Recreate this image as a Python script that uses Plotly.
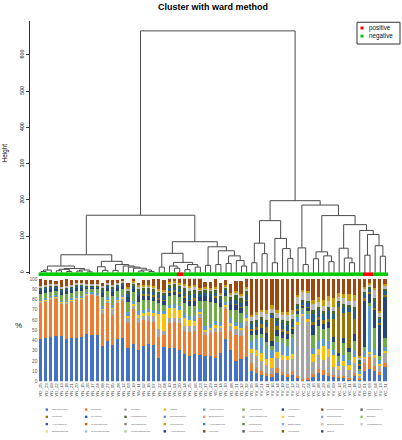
import plotly.graph_objects as go

W, H = 402, 440

title = "Cluster with ward method"

sample_labels = ["YD_25","YD_23","YN_09","YD_22","YN_13","YN_18","YN_21","YN_20","YN_15","YN_26",
                 "YN_17","YN_24","YN_08","YN_27","YN_05","YN_28","YN_12","YN_03","YN_19","YN_11",
                 "YN_02","YN_16","YN_07","YN_22","YN_04","YN_10","YN_01","YD_20","YN_14","YN_25",
                 "YN_06","YN_23","YD_17","YN_29","YD_11","YD_14","YN_30","YD_08","YN_31","YD_12",
                 "YN_32","YD_05","YV_18","YV_21","YV_11","YV_16","YV_14","YV_19","YV_07","YV_12",
                 "YC_22","YC_27","YC_24","YC_16","YC_08","YC_29","YV_05","YV_09","YC_13","YC_20",
                 "YC_11","YC_18","YV_02","YD_01","YD_03","YC_04","YV_13","YC_31"]
positive_leaves = [27, 63, 64]

# ward tree: (merge height, left, right); leaves are leaf-order indices
tree = (666,
        (158,
         (49,
          (18, (7, (3, 0, 1), 2),
               (11, (9, (5, 3, 4), (3, 5, 6)), (7, (4, 7, 8), (2, 9, 10)))),
          (31, (16, 11, (6, 12, 13)),
               (22, (6, 14, 15), (18, 16, (15, 17, (12, 18, (7, (4, 19, 20), (3, 21, 22)))))))),
         (85,
          (53, (15, 23, 24),
               (28, (18, 25, (12, 26, 27)), (22, (8, 28, 29), (15, 30, 31)))),
          (71, (20, 32, 33),
               (60, (22, 34, 35), (46, (25, 36, 37), (33, 38, (18, 39, 40))))))),
        (198,
         (143, (81, (27, 41, 42), (52, 43, 44)),
               (94, (27, 45, 46), (66, 47, (39, 48, 49)))),
         (186, (68, 50, (22, 51, 52)),
               (157, (57, (38, 53, 54), (46, 55, (30, 56, 57))),
                     (132, (67, 58, (40, 59, (27, 60, 61))),
                           (116, 62, (105, (48, 63, 64), (74, 65, (45, 66, 67)))))))))

genera = ["Streptococcus","Neisseria","Gemella","Rothia","Granulicatella","Actinomyces","Veillonella",
          "Porphyromonas","Parascardovia","Lautropia","Prevotella","Fusobacterium","Rhodanobacter",
          "Enterococcus","Corynebacterium","Delftia","Roseomonas","Dialister","Anoxybacillus",
          "Propionigenium","Ochrobactrum","Micrococcus","Anaerobacillus","Paracoccus","Bacteroides",
          "Staphylococcus","Megasphaera","Sphingomonas","Syntrophomonas","Propionibacterium",
          "Anaerococcus","Moorella","Lactobacillus","Finegoldia","Others"]
genus_colors = ["#4472C4","#ED7D31","#A5A5A5","#FFC000","#5B9BD5","#70AD47","#264478","#9E480E",
                "#636363","#997300","#255E91","#43682B","#698ED0","#F1975A","#B7B7B7","#FFCD33",
                "#7CAFDD","#8CC168","#335AA1","#D26012","#848484","#CC9A00","#3A7FC1","#5A8A39",
                "#8FAADC","#F4B183","#C9C9C9","#FFD966","#9DC3E6","#A9D18E","#203864","#843C0C",
                "#525252","#7F6000","#1F4E79"]

# relative abundance (%) per sample, in leaf order
streptococcus = [41,42,43,44,44,41,42,42,43,46,45,45, 35,40,36,41,42,33,37,31,35,37,36,
                 23,34,33,33,31,27,25,27, 26,25,25,23,28,41,31,20,22,24,
                 10,8,6,5,4,8,6,4,6, 3,1,2,4,8,6,5,4,3,3,2,5,2,10,12,10,6,14]
neisseria = [36,36,37,37,32,35,36,38,37,38,40,39, 31,37,29,36,37,24,34,26,25,22,22,
             20,11,24,25,26,22,23,22, 36,20,22,25,20,30,18,25,22,30,
             8,5,4,3,3,5,3,3,4, 2,1,1,3,4,5,3,2,2,2,1,3,1,8,12,5,3,4]
gemella = [1,1,1,1,1,1,1,1,1,1,1,1, 4,2,6,2,2,5,3,5,4,5,6,
           8,4,5,4,5,5,6,5, 4,3,3,4,4,2,5,6,6,5,
           10,12,10,8,6,10,12,14,12, 50,62,55,12,14,10,16,8,6,10,8,10,3,4,3,8,6,10]
rothia = [1,1,1,1,1,1,1,1,1,1,0,0, 1,1,1,1,1,2,2,3,3,4,3,
          15,17,10,10,8,8,6,5, 2,2,2,3,2,2,3,3,2,3,
          4,6,8,6,10,6,5,4,5, 3,2,3,8,6,14,8,12,4,5,5,6,1,2,2,3,2,2]
granulicatella = [1,1,1,1,1,1,1,1,1,1,1,1, 3,2,3,2,2,4,3,4,3,3,3,
                  3,3,3,4,4,5,4,5, 3,4,4,4,4,3,5,4,5,4,
                  8,10,14,12,8,10,12,10,14, 5,4,5,6,8,6,8,5,4,6,5,6,3,6,45,6,4,4]
actinomyces = [5,5,4,4,5,6,5,5,5,3,3,4, 8,6,8,6,6,10,8,9,10,9,9,
               8,6,8,8,8,10,10,10, 8,25,22,18,15,5,8,12,10,8,
               5,4,4,5,4,5,4,6,5, 3,2,3,12,14,10,12,8,6,12,8,10,2,4,3,20,4,8]
veillonella = [3,3,3,2,3,3,3,3,3,2,2,2, 4,3,4,3,3,4,3,5,4,4,4,
               3,4,4,4,4,5,5,5, 3,4,4,5,4,3,5,5,5,5,
               4,5,6,8,5,6,6,5,5, 3,2,3,10,6,5,6,4,3,4,4,6,3,45,8,18,30,40]
lautropia = [0,0,0,0,0,0,0,0,0,0,0,0, 0,0,0,0,0,0,0,0,1,1,1,
             1,1,1,1,1,1,1,2, 0,0,0,1,0,0,0,1,1,1,
             2,3,4,6,22,4,3,3,2, 2,1,1,3,3,4,3,18,45,25,35,15,2,2,2,2,2,2]
prevotella = [2,2,2,2,2,2,2,2,2,1,1,1, 3,2,3,2,2,3,3,4,3,3,3,
              3,3,3,3,3,4,4,4, 3,3,3,3,3,3,4,4,4,4,
              5,4,4,4,3,5,6,6,5, 3,3,4,8,6,6,8,5,4,6,4,8,3,4,3,6,4,4]
fusobacterium = [2,2,2,2,2,2,2,2,2,1,1,1, 2,2,2,2,2,3,2,3,3,3,3,
                 3,3,3,3,3,4,4,4, 3,3,3,3,3,3,3,4,4,4,
                 3,3,3,3,2,3,3,4,3, 2,2,2,4,4,3,4,3,2,3,3,4,1,2,2,3,2,2]
corynebacterium = [1,1,1,1,1,1,1,1,1,1,1,1, 2,1,2,1,1,3,2,3,2,2,2,
                   2,2,2,2,2,3,3,3, 2,2,2,2,2,1,3,3,3,3,
                   4,5,5,6,4,5,5,6,5, 6,8,7,6,5,5,6,4,3,5,4,6,2,3,3,8,4,4]
micrococcus = [0,0,0,0,0,0,0,0,0,0,0,0, 0,0,0,0,0,1,1,1,1,1,1,
               1,1,1,1,1,1,2,2, 1,1,1,1,1,1,1,1,1,1,
               2,3,2,4,4,3,3,3,4, 2,1,2,4,4,6,4,8,4,4,6,5,2,2,1,2,2,1]
porphyromonas = [7,5,4,3,7,7,5,3,3,4,4,4, 3,3,5,3,2,4,3,2,5,5,7,
                 10,10,4,6,8,10,12,12, 10,5,6,8,10,5,9,10,13,12,
                 35,32,30,30,25,30,32,32,30, 16,11,12,20,18,20,17,19,14,15,15,16,75,8,4,9,31,5]

bar_series = [("Streptococcus", streptococcus), ("Neisseria", neisseria), ("Gemella", gemella),
              ("Rothia", rothia), ("Granulicatella", granulicatella), ("Actinomyces", actinomyces),
              ("Veillonella", veillonella), ("Lautropia", lautropia), ("Prevotella", prevotella),
              ("Fusobacterium", fusobacterium), ("Corynebacterium", corynebacterium),
              ("Micrococcus", micrococcus), ("Porphyromonas", porphyromonas)]

n = len(sample_labels)
color_of = dict(zip(genera, genus_colors))

# ---------- dendrogram segments ----------
xs, ys = [], []

def walk(node):
    if isinstance(node, int):
        return float(node), 0.0
    h, l, r = node
    xl, hl = walk(l)
    xr, hr = walk(r)
    xs.extend([xl, xl, xr, xr, None])
    ys.extend([hl, h, h, hr, None])
    return (xl + xr) / 2.0, h

walk(tree)

def py(p):  # pixel from top -> paper fraction
    return 1 - p / H

def px(p):
    return p / W

XR = [-0.5, n - 0.5]
XD = [px(38.4), px(388.0)]

fig = go.Figure()
fig.add_trace(go.Scatter(x=xs, y=ys, mode="lines", line=dict(color="#4a4a4a", width=1),
                         xaxis="x", yaxis="y", hoverinfo="skip", showlegend=False))

grp = [1 if i in positive_leaves else 0 for i in range(n)]
fig.add_trace(go.Heatmap(x=list(range(n)), y=[0], z=[grp], zmin=0, zmax=1,
                         colorscale=[[0, "#00CD00"], [1, "#FF0000"]], showscale=False,
                         xaxis="x2", yaxis="y2", hoverinfo="skip"))

for name, vals in bar_series:
    fig.add_trace(go.Bar(x=list(range(n)), y=vals, name=name, marker_color=color_of[name],
                         marker_line_width=0, width=0.62, xaxis="x3", yaxis="y3",
                         showlegend=False))

ann = []
shapes = []

# legend for groups (top right)
shapes.append(dict(type="rect", xref="paper", yref="paper", x0=px(357), x1=px(400),
                   y0=py(42.5), y1=py(20.5), line=dict(color="#333", width=1)))
for k, (lab, col) in enumerate([("positive", "#FF0000"), ("negative", "#00CD00")]):
    yy = 26.3 + 8.2 * k
    shapes.append(dict(type="rect", xref="paper", yref="paper", x0=px(360.5), x1=px(363.5),
                       y0=py(yy + 1.5), y1=py(yy - 1.5), fillcolor=col, line_width=0))
    ann.append(dict(text=lab, x=px(367), y=py(yy), xref="paper", yref="paper",
                    xanchor="left", yanchor="middle", showarrow=False,
                    font=dict(size=6.3, color="#111", family="Liberation Sans")))

# genus legend (bottom)
for k, g in enumerate(genera):
    r, c = divmod(k, 9)
    cx = 46.8 + 39.35 * c
    cy = 412.3 + 7.33 * r
    shapes.append(dict(type="rect", xref="paper", yref="paper", x0=px(cx - 1.2), x1=px(cx + 1.2),
                       y0=py(cy + 1.2), y1=py(cy - 1.2), fillcolor=genus_colors[k], line_width=0))
    ann.append(dict(text=g, x=px(cx + 3), y=py(cy), xref="paper", yref="paper",
                    xanchor="left", yanchor="middle", showarrow=False,
                    font=dict(size=2.4, color="#595959", family="Liberation Sans")))

ann.append(dict(text="<b>" + title + "</b>", x=px(213), y=py(5), xref="paper", yref="paper",
                xanchor="center", yanchor="middle", showarrow=False,
                font=dict(size=9, color="#000", family="Liberation Sans")))
ann.append(dict(text="Height", x=px(5), y=py(153), xref="paper", yref="paper", textangle=-90,
                xanchor="center", yanchor="middle", showarrow=False,
                font=dict(size=6.3, color="#000", family="Liberation Sans")))
ann.append(dict(text="%", x=px(18.5), y=py(327), xref="paper", yref="paper",
                xanchor="center", yanchor="middle", showarrow=False,
                font=dict(size=8, color="#222", family="Liberation Sans")))

fig.update_layout(
    width=W, height=H, margin=dict(l=0, r=0, t=0, b=0),
    paper_bgcolor="white", plot_bgcolor="rgba(0,0,0,0)",
    barmode="stack", bargap=0, showlegend=False,
    xaxis=dict(domain=XD, range=XR, visible=False),
    yaxis=dict(domain=[py(275.5), py(19.3)], range=[-5, 693], anchor="free", position=px(29.3),
               showline=True, linecolor="#333", linewidth=1, ticks="outside", ticklen=3,
               tickcolor="#333", tickvals=[0, 100, 200, 300, 400, 500, 600], tickangle=-90,
               tickfont=dict(size=5.2, color="#000", family="Liberation Sans"),
               showgrid=False, zeroline=False),
    xaxis2=dict(domain=XD, range=XR, visible=False, anchor="y2"),
    yaxis2=dict(domain=[py(277.3), py(273.3)], range=[-0.5, 0.5], visible=False, anchor="x2"),
    xaxis3=dict(domain=XD, range=XR, anchor="y3", tickmode="array", tickvals=list(range(n)),
                ticktext=sample_labels, tickangle=-90, ticks="", showline=False, showgrid=False,
                zeroline=False, tickfont=dict(size=4.4, color="#404040", family="Liberation Sans")),
    yaxis3=dict(domain=[py(383.7), py(280)], range=[0, 100], anchor="x3", tickvals=list(range(0, 101, 10)),
                showgrid=False, zeroline=False, showline=False, ticks="",
                tickfont=dict(size=4.8, color="#595959", family="Liberation Sans")),
    annotations=ann, shapes=shapes,
)

fig.write_html("out.html", config={"displayModeBar": False},
               post_script="document.body.style.margin='0';document.body.style.overflow='hidden';")
